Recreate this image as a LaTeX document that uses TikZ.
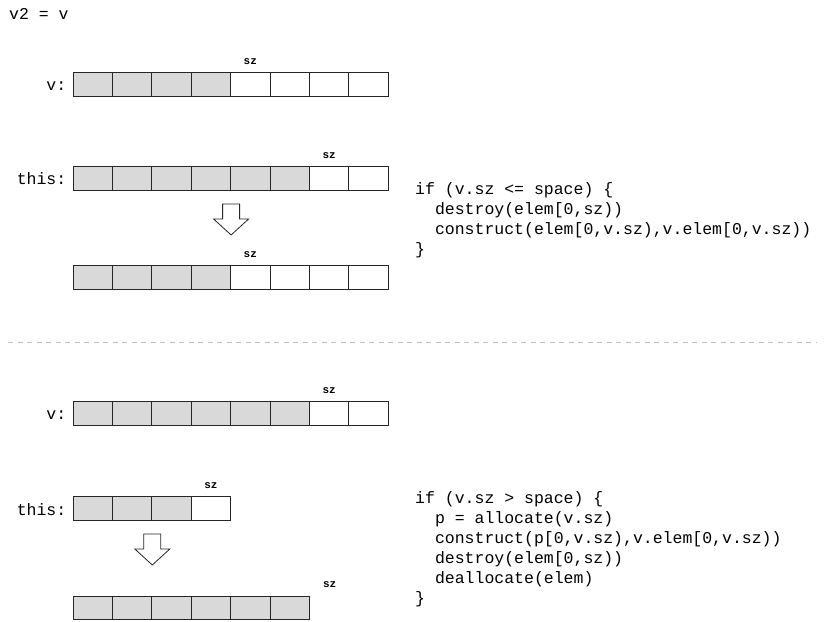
\documentclass[tikz,border=0pt]{standalone}
\usepackage{fontspec}
\setmonofont{Liberation Mono}
\usepackage{xcolor}
\usepackage{tikz}
\usetikzlibrary{positioning, calc}
\definecolor{cellgray}{RGB}{217, 217, 217}
\definecolor{dashgray}{RGB}{192, 192, 192}

\tikzset{
    cell/.style={draw=black!85, line width=1pt, minimum width=39.4pt, minimum height=23.5pt, inner sep=0pt},
    fullcell/.style={cell, fill=cellgray},
    rowlabel/.style={inner sep=0pt, font=\fontsize{16.5}{20}\selectfont\ttfamily},
    szlabel/.style={inner sep=0pt, font=\fontsize{11}{13}\selectfont\ttfamily\bfseries},
    codeblock/.style={inner sep=0pt, anchor=base west, align=left, font=\fontsize{16.5}{20}\selectfont\ttfamily},
    arrowbox/.style={draw=black!85, line width=0.8pt, fill=white},
    divider/.style={draw=dashgray, line width=1pt, dash pattern=on 5pt off 4.5pt}
}

% one row of cells: name, y, number of cells, number of filled cells
\newcommand{\cellrow}[4]{%
    \foreach \i in {1,...,#3}{%
        \ifnum\i>#4\relax \def\cellstyle{cell}\else \def\cellstyle{fullcell}\fi
        \node[\cellstyle] (#1-\i) at ({73+(\i-0.5)*39.4},#2) {};
    }%
}
\newcommand{\blockarrow}[1]{%
    \draw[arrowbox] (#1) ++(-8.5,0) -- ++(0,-15) -- ++(-9,0) -- ++(17.5,-16)
        -- ++(17.5,16) -- ++(-9,0) -- ++(0,15) -- cycle;
}
\newcommand{\ind}{\phantom{xx}}

\begin{document}
\begin{tikzpicture}[x=1pt, y=1pt]
    \useasboundingbox (0,0) rectangle (824,621);

    \node[rowlabel, anchor=base west] (title) at (9,601) {v2 = v};

    % v2 = v, when v fits
    \cellrow{va}{536.25}{8}{4}
    \cellrow{thisa}{442.25}{8}{6}
    \cellrow{resa}{343.25}{8}{4}

    \node[rowlabel, anchor=base east] (vlabela) at ($(va-1.west)+(-6,-6.25)$) {v:};
    \node[rowlabel, anchor=base east] (thislabela) at ($(thisa-1.west)+(-6,-6.25)$) {this:};

    \node[szlabel, above=7.5pt of va-5] (szva) {sz};
    \node[szlabel, above=7.5pt of thisa-7] (szthisa) {sz};
    \node[szlabel, above=7.5pt of resa-5] (szresa) {sz};

    \coordinate (arra) at ($(thisa-4.south east)+(0,-13)$);
    \blockarrow{arra}

    % base is the last line
    \node[codeblock] (codea) at (415,366) {if (v.sz <= space) \{\\
        \ind destroy(elem[0,sz))\\
        \ind construct(elem[0,v.sz),v.elem[0,v.sz))\\
        \}};

    \draw[divider] (8,278) -- (816,278);

    % v2 = v, when v does not fit
    \cellrow{vb}{207.25}{8}{6}
    \cellrow{thisb}{112.25}{4}{3}
    \cellrow{resb}{13.25}{6}{6}

    \node[rowlabel, anchor=base east] (vlabelb) at ($(vb-1.west)+(-6,-6.25)$) {v:};
    \node[rowlabel, anchor=base east] (thislabelb) at ($(thisb-1.west)+(-6,-6.25)$) {this:};

    \coordinate (resb-end) at ($(resb-6.north east)+(19.7,0)$);
    \node[szlabel, above=7.5pt of vb-7] (szvb) {sz};
    \node[szlabel, above=7.5pt of thisb-4] (szthisb) {sz};
    \node[szlabel, above=7.5pt of resb-end] (szresb) {sz};

    \coordinate (arrb) at ($(thisb-2.south east)+(0,-13)$);
    \blockarrow{arrb}

    \node[codeblock] (codeb) at (415,17.7) {if (v.sz > space) \{\\
        \ind p = allocate(v.sz)\\
        \ind construct(p[0,v.sz),v.elem[0,v.sz))\\
        \ind destroy(elem[0,sz))\\
        \ind deallocate(elem)\\
        \}};
\end{tikzpicture}
\end{document}
